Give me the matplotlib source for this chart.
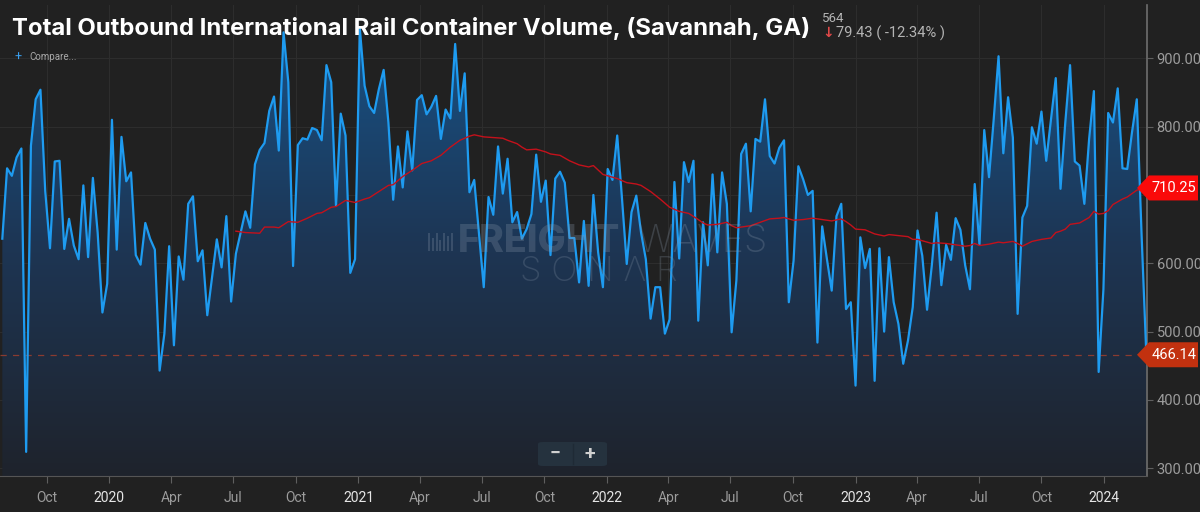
#!/usr/bin/env python3
# Total outbound international rail container volume, Savannah GA (SONAR style chart)
import numpy as np
import pandas as pd
import matplotlib
matplotlib.use('Agg')
import matplotlib.pyplot as plt
import matplotlib.dates as mdates
from matplotlib.colors import LinearSegmentedColormap
from matplotlib.patches import Polygon, FancyBboxPatch
from matplotlib.transforms import blended_transform_factory

plt.rcParams['font.family'] = ['Roboto', 'DejaVu Sans']

# weekly volume
volume = [
    636, 739, 728, 755, 768, 324, 772, 840, 854, 706, 622, 749, 750, 621, 665, 626,
    606, 714, 609, 725, 645, 528, 570, 810, 620, 785, 720, 733, 612, 598, 659, 636,
    620, 443, 497, 625, 480, 610, 576, 687, 698, 603, 619, 524, 579, 635, 594, 669,
    544, 614, 645, 676, 652, 745, 766, 776, 823, 844, 765, 938, 865, 596,
    773, 783, 781, 798, 795, 780, 890, 865, 684, 819, 787, 586, 606, 944, 860, 830,
    820, 855, 883, 806, 693, 771, 711, 793, 736, 839, 846, 818, 829, 845, 782,
    825, 812, 921, 823, 878, 704, 722, 643, 565, 697, 671, 771, 702, 753, 660, 675,
    636, 650, 672, 759, 690, 721, 612, 724, 734, 718, 637, 637, 572, 662,
    567, 700, 616, 565, 738, 722, 787, 695, 599, 675, 699, 645, 606, 519, 565, 565,
    497, 518, 719, 607, 748, 719, 750, 516, 660, 597, 730, 616, 733, 687, 499,
    575, 760, 775, 676, 782, 778, 840, 757, 746, 769, 780, 543, 604, 742, 723, 700,
    706, 484, 654, 606, 560, 669, 687, 533, 543, 421, 638, 593, 621, 428,
    622, 500, 609, 543, 511, 453, 487, 536, 648, 611, 532, 597, 674, 568, 627, 605,
    666, 649, 597, 562, 716, 627, 795, 726, 812, 903, 761, 843, 784, 526,
    667, 684, 799, 775, 822, 750, 811, 871, 709, 806, 890, 749, 743, 687, 782, 852,
    441, 562, 820, 806, 856, 739, 738, 792, 840, 643, 466.14,
]
dates = pd.date_range('2019-07-28', periods=len(volume), freq='7D')

# moving average line (red), week index -> value
ma_week = [49, 51, 54, 55, 57, 58, 60, 62, 64, 66, 67, 69, 70, 72, 74, 76, 77, 79, 81, 82,
           84, 86, 88, 90, 92, 94, 96, 98, 99, 101, 103, 105, 106, 108, 109, 110, 112, 114,
           115, 117, 119, 121, 123, 124, 126, 128, 129, 131, 133, 134, 136, 138, 140, 142,
           144, 146, 147, 148, 150, 152, 153, 154, 157, 159, 161, 163, 164, 166, 168, 170,
           172, 174, 176, 177, 178, 179, 181, 182, 183, 185, 186, 190, 191, 192, 194, 195,
           196, 198, 200, 202, 203, 204, 205, 207, 209, 210, 212, 213, 214, 216, 218, 220,
           221, 222, 223, 224, 226, 227, 228, 229, 230, 231, 232, 233, 234, 235, 236, 237,
           238, 240]
ma_value = [647, 645, 644, 653, 653, 652, 661, 660, 666, 673, 674, 682, 683, 692, 689, 694,
            696, 705, 714, 715, 727, 736, 746, 750, 758, 770, 780, 786, 788, 785, 784, 783,
            780, 775, 770, 766, 767, 763, 760, 758, 750, 744, 741, 743, 730, 726, 724, 718,
            716, 714, 705, 694, 682, 676, 673, 664, 659, 656, 657, 660, 655, 652, 655, 660,
            665, 666, 667, 663, 664, 666, 664, 662, 665, 661, 656, 650, 649, 646, 643, 640,
            642, 639, 635, 635, 631, 629, 630, 629, 627, 625, 626, 629, 626, 628, 631, 630,
            632, 629, 625, 632, 635, 637, 645, 647, 650, 657, 659, 663, 667, 676, 672, 673,
            677, 686, 690, 694, 697, 702, 707, 710.25]

last_label = '466.14'
ma_label = '710.25'
title = 'Total Outbound International Rail Container Volume, (Savannah, GA)'
y_ticks = [300, 400, 500, 600, 700, 800, 900]

BG = '#212121'
W, H = 1200, 512

fig = plt.figure(figsize=(W / 100, H / 100), dpi=100, facecolor=BG)
ax = fig.add_axes([0, 1 - 476 / H, 1147 / W, (476 - 5) / H], facecolor=BG)

ymin, ymax = 288.7, 978
x0 = mdates.date2num(dates[0]) - 3.4
x1 = mdates.date2num(dates[-1]) + 1.0
ax.set_xlim(x0, x1)
ax.set_ylim(ymin, ymax)

# gradient fill under the line
poly = ax.fill_between(dates, volume, ymin, color='none', lw=0)
grad = np.linspace(0, 1, 256).reshape(-1, 1)
cmap = LinearSegmentedColormap.from_list('fill', ['#1f232c', '#1d3655', '#17558b'])
im = ax.imshow(grad, extent=[x0, x1, ymin, ymax], origin='lower', aspect='auto',
               cmap=cmap, zorder=1)
im.set_clip_path(poly.get_paths()[0], transform=ax.transData)

ax.plot(dates, volume, color='#1e9bf0', lw=1.6, zorder=4)
ax.plot(dates[ma_week], ma_value, color='#c4111b', lw=1.0, zorder=5)
ax.axhline(float(last_label), color='#8a3b30', lw=0.9, ls=(0, (5, 5)), zorder=3)

# grid and axes
ax.grid(True, color='#2d2d2d', lw=0.8, zorder=0)
ax.set_axisbelow(True)
ax.xaxis.set_major_locator(mdates.MonthLocator(bymonth=(1, 4, 7, 10)))
ax.xaxis.set_major_formatter(mdates.DateFormatter('%b'))
ax.yaxis.tick_right()
ax.set_yticks(y_ticks)
# the 700 label sits under the red flag in the reference
ax.set_yticklabels(['' if v == 700 else '%.2f' % v for v in y_ticks])
ax.tick_params(axis='y', colors='#5f5f5f', labelcolor='#9c9c9c', labelsize=10.5,
               length=4, pad=3)
ax.tick_params(axis='x', colors='#5f5f5f', labelcolor='#9c9c9c', labelsize=10,
               length=5, pad=6)
for s in ['top', 'left']:
    ax.spines[s].set_visible(False)
ax.spines['bottom'].set_color('#555555')
ax.spines['right'].set_color('#6e6e6e')
ax.spines['right'].set_linewidth(1.2)

ticks = ax.get_xticks()
labels = []
for loc in ticks:
    d = mdates.num2date(loc)
    labels.append(str(d.year) if d.month == 1 else d.strftime('%b'))
ax.set_xticks(ticks)
ax.set_xticklabels(labels)
for t, loc in zip(ax.get_xticklabels(), ticks):
    if mdates.num2date(loc).month == 1:
        t.set_color('#e6e6e6')

# value flags on the right
tr = blended_transform_factory(fig.transFigure, ax.transData)
half = 12.5 / 0.6833
for val, text, col in [(float(ma_label), ma_label, '#fa0a0a'),
                       (float(last_label), last_label, '#c2310f')]:
    xa, xb, xc = 1137 / W, 1149 / W, 1198 / W
    pts = [(xa, val), (xb, val + half), (xc, val + half), (xc, val - half), (xb, val - half)]
    ax.add_patch(Polygon(pts, closed=True, transform=tr, facecolor=col,
                         edgecolor='none', clip_on=False, zorder=10))
    ax.text(1174 / W, val, text, transform=tr, color='white', fontsize=10.5,
            ha='center', va='center', zorder=11, clip_on=False)

# header texts
fig.text(12 / W, 1 - 29 / H, title, color='white', fontsize=17.2, fontweight='bold',
         va='center', ha='left', family=['Inter', 'Roboto', 'DejaVu Sans'])
fig.text(822 / W, 1 - 19 / H, '564', color='#b4b4b4', fontsize=9.5, va='center')
fig.text(822 / W, 1 - 33 / H, '\u2193', color='#e04848', fontsize=10, va='center',
         family=['DejaVu Sans'], fontweight='bold')
fig.text(836 / W, 1 - 33 / H, '79.43 ( -12.34% )', color='#b4b4b4', fontsize=10.5,
         va='center')
fig.text(14 / W, 1 - 57 / H, '+', color='#3aa0f0', fontsize=9, va='center')
fig.text(29 / W, 1 - 57 / H, 'Compare...', color='#a8a8a8', fontsize=7, va='center')

# watermark
wm = '#8796a8'
fig.text(458 / W, 1 - 242 / H, 'FREIGHT', color=wm, alpha=0.28, fontsize=27,
         fontweight='heavy', va='center', ha='left',
         family=['Inter', 'Roboto', 'DejaVu Sans'])
fig.text(768 / W, 1 - 242 / H, 'WAVES', color=wm, alpha=0.28, fontsize=27,
         fontweight='light', va='center', ha='right',
         family=['Inter', 'Roboto', 'DejaVu Sans'])
fig.text(599 / W, 1 - 272 / H, 'S O N \u039b R', color=wm, alpha=0.25,
         fontsize=25, fontweight='light', va='center', ha='center',
         family=['Inter', 'Roboto', 'DejaVu Sans'])
for i, hgt in enumerate([18, 13, 18, 11, 18, 15, 18]):
    fig.patches.append(plt.Rectangle(((428 + i * 3.8) / W, (512 - 251) / H), 2 / W, hgt / H,
                                     transform=fig.transFigure, color=wm,
                                     alpha=0.28, lw=0))

# zoom buttons
fig.patches.append(FancyBboxPatch((538 / W, 1 - 466 / H), 69 / W, 24 / H,
                                  boxstyle='round,pad=0,rounding_size=0.004',
                                  transform=fig.transFigure, facecolor='#25323e',
                                  edgecolor='none', zorder=20))
fig.lines.append(plt.Line2D([573 / W, 573 / W], [1 - 464 / H, 1 - 444 / H],
                            transform=fig.transFigure, color='#1f2a35', lw=1, zorder=21))
fig.text(555 / W, 1 - 454 / H, '\u2212', color='#d0d0d0', fontsize=14,
         fontweight='bold', ha='center', va='center', zorder=22)
fig.text(590 / W, 1 - 454 / H, '+', color='#d0d0d0', fontsize=14,
         fontweight='bold', ha='center', va='center', zorder=22)

fig.savefig('out.png', dpi=100, facecolor=BG)
